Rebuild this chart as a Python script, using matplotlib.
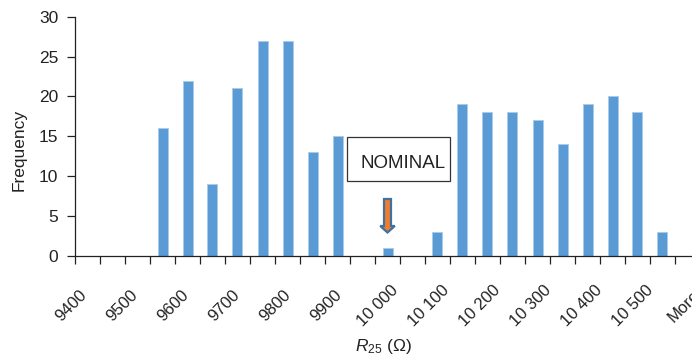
import matplotlib
matplotlib.use('Agg')
import matplotlib.pyplot as plt
import matplotlib.transforms as mtransforms
from matplotlib.patches import Rectangle, Polygon
import numpy as np

plt.rcParams['font.family'] = ['Liberation Sans', 'DejaVu Sans']
plt.rcParams['mathtext.fontset'] = 'custom'
plt.rcParams['mathtext.rm'] = 'Liberation Sans'
plt.rcParams['mathtext.it'] = 'Liberation Sans:italic'

# ---- data ----
bins = ['9400', '9450', '9500', '9550', '9600', '9650', '9700', '9750', '9800',
        '9850', '9900', '9950', '10000', '10050', '10100', '10150', '10200',
        '10250', '10300', '10350', '10400', '10450', '10500', '10550', 'More']
frequency = [0, 0, 0, 16, 22, 9, 21, 27, 27, 13, 15, 0, 1, 0, 3, 19, 18, 18,
             17, 14, 19, 20, 18, 3, 0]
tick_labels = ['9400', '', '9500', '', '9600', '', '9700', '', '9800', '',
               '9900', '', '10 000', '', '10 100', '', '10 200', '', '10 300', '',
               '10 400', '', '10 500', '', 'More']
y_ticks = [0, 5, 10, 15, 20, 25, 30]
nominal_bin = '10000'
nominal_text = 'NOMINAL'
y_label = 'Frequency'
x_label = r'$R_{25}$ (Ω)'

# ---- figure ----
W, H = 692, 358
fig = plt.figure(figsize=(W / 100, H / 100), dpi=100)
px = mtransforms.Affine2D().scale(1 / W, -1 / H).translate(0, 1) + fig.transFigure

ax_left, ax_right, ax_top, ax_bottom = 75, 700, 16.7, 256
ax = fig.add_axes([ax_left / W, (H - ax_bottom) / H,
                   (ax_right - ax_left) / W, (ax_bottom - ax_top) / H])

x = np.arange(len(bins))
ax.bar(x, frequency, width=0.4, color='#5B9BD5', edgecolor='#A9CBEB',
       linewidth=0.7, zorder=2)

ax.set_xlim(-0.5, len(bins) - 0.5)
ax.set_ylim(0, 30)
ax.set_yticks(y_ticks)
ax.set_xticks(np.arange(len(bins) + 1) - 0.5)
ax.set_xticklabels([])

text_color = '#222222'
for s in ['top', 'right']:
    ax.spines[s].set_visible(False)
for s in ['left', 'bottom']:
    ax.spines[s].set_color(text_color)
    ax.spines[s].set_linewidth(0.9)
    ax.spines[s].set_zorder(3)
ax.tick_params(axis='both', direction='out', length=5.8, width=0.9,
               color=text_color, labelcolor=text_color)
ax.tick_params(axis='y', labelsize=12.5, pad=6.3)

# rotated category labels (every other category)
lab_tr = mtransforms.blended_transform_factory(ax.transData, px)
for i, lab in enumerate(tick_labels):
    if lab:
        ax.text(i * 1.0208 - 0.64, 306, lab, transform=lab_tr, rotation=45,
                ha='center', va='center', fontsize=12, color=text_color,
                clip_on=False)

fig.text(19, 150, y_label, transform=px, rotation=90, ha='center',
         va='center', fontsize=12.5, color=text_color)
fig.text(383, 351, x_label, transform=px, ha='center', va='baseline',
         fontsize=12.5, color=text_color)

# NOMINAL annotation box
fig.add_artist(Rectangle((347, 137), 103, 44, transform=px, facecolor='white',
                         edgecolor='#333333', linewidth=0.9, zorder=5))
fig.text(403, 168, nominal_text, transform=px, ha='center', va='baseline',
         fontsize=13.5, color=text_color, zorder=6)

# arrow pointing to nominal bin
xc = bins.index(nominal_bin)
sw, hw = 0.14, 0.29
verts = [(xc - sw, 199), (xc + sw, 199), (xc + sw, 226), (xc + hw, 226),
         (xc, 232.5), (xc - hw, 226), (xc - sw, 226)]
fig.add_artist(Polygon(verts, closed=True, transform=lab_tr,
                       facecolor='#ED7D31', edgecolor='#41719C',
                       linewidth=1.6, zorder=5))

fig.savefig('out.png', dpi=100)
